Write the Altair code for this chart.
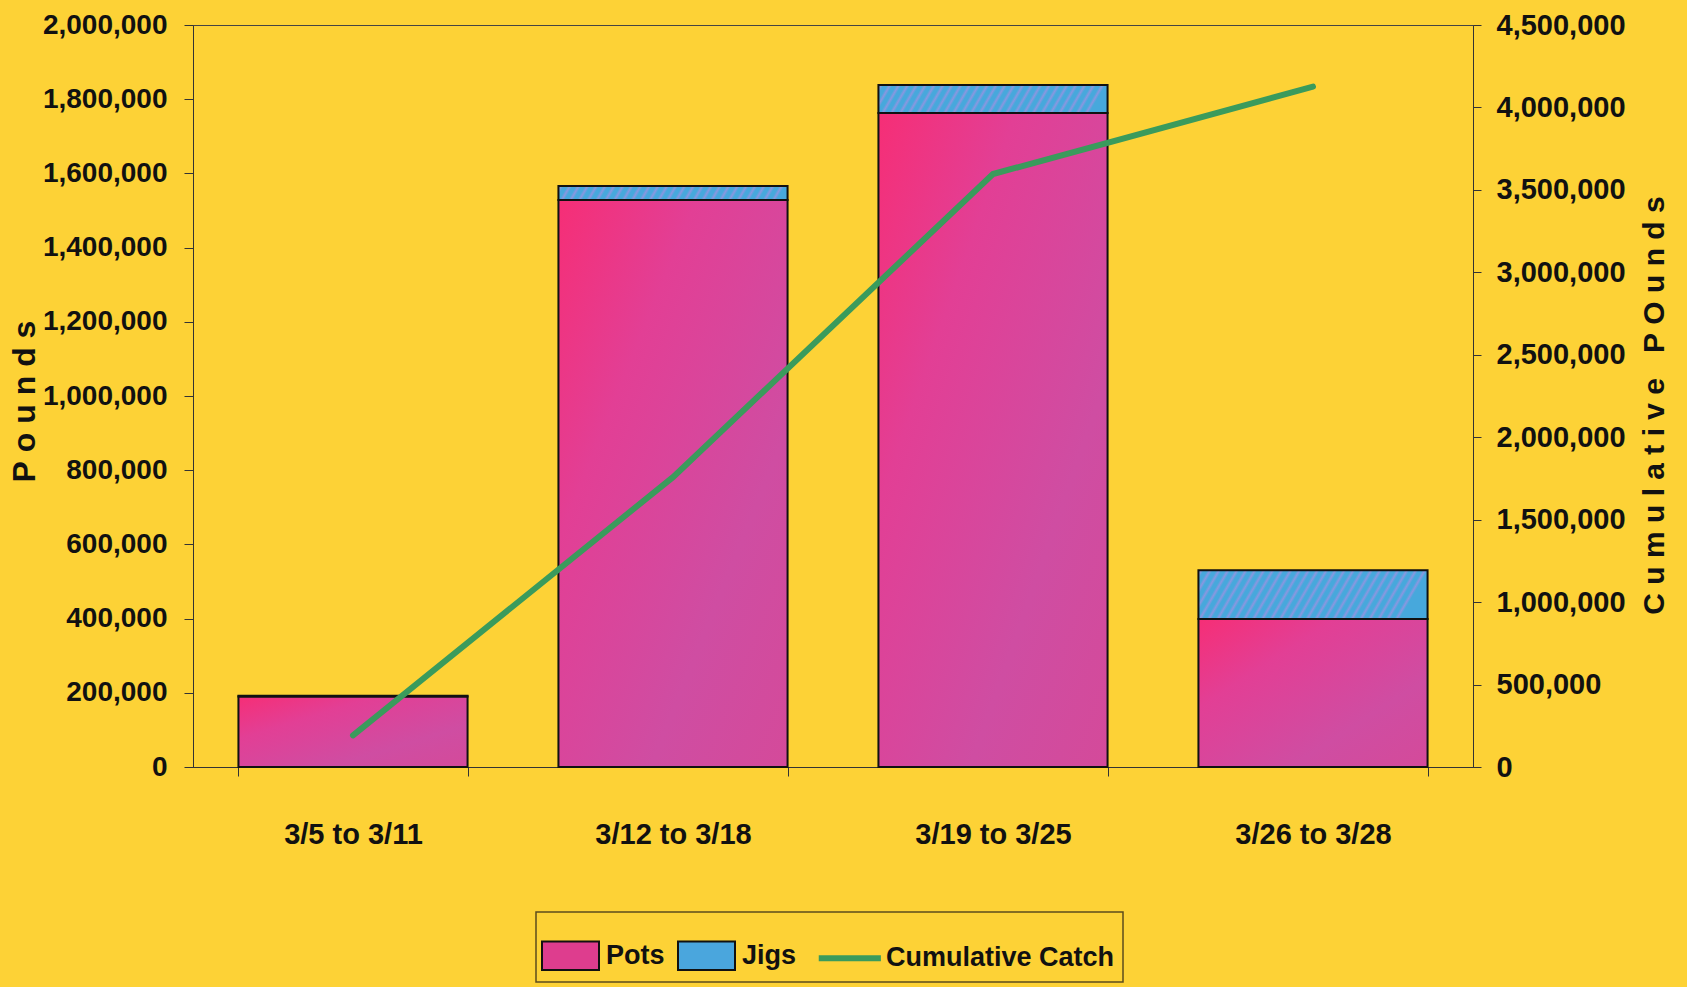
import altair as alt
import pandas as pd

# Weekly catch by gear type and the running total
weeks = ["3/5 to 3/11", "3/12 to 3/18", "3/19 to 3/25", "3/26 to 3/28"]
pots = [190000, 1528000, 1763000, 399000]
jigs = [2000, 38000, 75000, 131000]
cumulative = [192000, 1758000, 3596000, 4126000]

series = ["Pots", "Jigs", "Cumulative Catch"]
series_colors = ["#DE3D8E", "#4AA6DD", "#3A9B5C"]

left_ticks = [0, 200000, 400000, 600000, 800000, 1000000,
              1200000, 1400000, 1600000, 1800000, 2000000]
right_ticks = [0, 500000, 1000000, 1500000, 2000000,
               2500000, 3000000, 3500000, 4000000, 4500000]

FONT = "Liberation Sans"
BG = "#FDD236"
INK = "#111111"
LINE_GREEN = "#3A9B5C"
JIG_BLUE = "#47A8DC"
JIG_STRIPE = "#8A97E0"
NB = "\u00a0"  # non-collapsing space for the spaced-out axis titles

PLOT_W, PLOT_H = 1280, 742
LEFT_MAX, RIGHT_MAX = 2000000, 4500000
PAD_INNER, PAD_OUTER = 0.284, 0.142
BAR_W = PLOT_W / len(weeks) * (1 - PAD_INNER)

rows = []
for w, p, j in zip(weeks, pots, jigs):
    rows.append({"week": w, "series": "Pots", "low": 0, "high": p})
    rows.append({"week": w, "series": "Jigs", "low": p, "high": p + j})
bars_df = pd.DataFrame(rows)
pots_df = bars_df[bars_df["series"] == "Pots"]
jigs_df = bars_df[bars_df["series"] == "Jigs"]
line_df = pd.DataFrame({"week": weeks, "total": cumulative})

x_enc = alt.X(
    "week:N", sort=weeks, title=None,
    scale=alt.Scale(paddingInner=PAD_INNER, paddingOuter=PAD_OUTER),
    axis=alt.Axis(labelAngle=0, tickBand="extent", tickSize=9, labelPadding=44,
                  domainColor="#333", tickColor="#333", labelFont=FONT,
                  labelFontSize=29, labelFontWeight="bold", labelColor=INK,
                  labelLimit=400, grid=False),
)

left_axis = alt.Axis(
    orient="left", values=left_ticks, format=",.0f", grid=False,
    tickSize=9, labelPadding=17, domainColor="#333", tickColor="#333",
    labelFont=FONT, labelFontSize=28, labelFontWeight="bold", labelColor=INK,
    title=NB.join("Pounds"), titleFont=FONT, titleFontSize=32,
    titleFontWeight="bold", titleColor=INK,
    titleX=-169, titleY=376, titleAngle=270,
    titleAlign="center", titleBaseline="middle",
)
left_scale = alt.Scale(domain=[0, LEFT_MAX], nice=False)

right_axis = alt.Axis(
    orient="right", values=right_ticks, format=",.0f", grid=False,
    tickSize=8, labelPadding=15, domainColor="#333", tickColor="#333",
    labelFont=FONT, labelFontSize=29, labelFontWeight="bold", labelColor=INK,
    title=NB.join("Cumulative") + NB * 3 + NB.join("POunds"), titleFont=FONT,
    titleFontSize=30, titleFontWeight="bold", titleColor=INK,
    titleX=181, titleY=380, titleAngle=270,
    titleAlign="center", titleBaseline="middle",
)

is_line = "datum.value === 'Cumulative Catch'"
legend = alt.Legend(
    title=" ", titleFontSize=22, titlePadding=0,
    orient="none", legendX=343, legendY=887, direction="horizontal", columns=3,
    symbolType=alt.ExprRef(expr=f"{is_line} ? 'M-1.5,0H0.68' : 'M-1,-0.5H1V0.5H-1Z'"),
    symbolSize=3249, symbolOffset=13,
    symbolStrokeWidth=alt.ExprRef(expr=f"{is_line} ? 6 : 2"),
    symbolStrokeColor=alt.ExprRef(expr=f"{is_line} ? '{LINE_GREEN}' : '{INK}'"),
    symbolOpacity=1,
    labelFont=FONT, labelFontSize=27, labelFontWeight="bold", labelColor=INK,
    labelOffset=alt.ExprRef(expr=f"{is_line} ? 11 : 22"),
    labelLimit=600, columnPadding=9, padding=8,
    strokeColor="#5C4C1C", fillColor=BG,
)

y_bar = alt.Y("low:Q", scale=left_scale, axis=left_axis)

# Stacked gear bars (Pots at the base, Jigs on top); carries the legend
bars = alt.Chart(bars_df).mark_bar(opacity=1).encode(
    x=x_enc, y=y_bar, y2="high:Q",
    color=alt.Color("series:N",
                    scale=alt.Scale(domain=series, range=series_colors),
                    legend=legend),
)

# Shaded fill for the Pots segments
pots_fill = alt.Gradient(
    gradient="linear",
    stops=[
        alt.GradientStop(color="#F62E76", offset=0),
        alt.GradientStop(color="#E23F95", offset=0.3),
        alt.GradientStop(color="#CF4DA2", offset=0.7),
        alt.GradientStop(color="#D44A9A", offset=1),
    ],
    x1=0, y1=0, x2=1, y2=1,
)
pots_bars = alt.Chart(pots_df).mark_bar(fill=pots_fill).encode(
    x=x_enc, y=y_bar, y2="high:Q",
)


def hatch_fill(seg_height, period=8.7):
    """Diagonal stripe fill for a Jigs segment of the given pixel height."""
    n = max(1, round(BAR_W / period))
    tilt = 0.577 * max(seg_height, 1.0) / BAR_W
    stops = []
    for k in range(n):
        stops.append(alt.GradientStop(color=JIG_BLUE, offset=k / n))
        stops.append(alt.GradientStop(color=JIG_STRIPE, offset=(k + 0.3) / n))
        stops.append(alt.GradientStop(color=JIG_BLUE, offset=(k + 0.6) / n))
    stops.append(alt.GradientStop(color=JIG_BLUE, offset=1))
    return alt.Gradient(gradient="linear", stops=stops, x1=0, y1=0, x2=1, y2=tilt)


jig_layers = []
for w, j in zip(weeks, jigs):
    seg_h = j / LEFT_MAX * PLOT_H
    jig_layers.append(
        alt.Chart(jigs_df[jigs_df["week"] == w]).mark_bar(fill=hatch_fill(seg_h)).encode(
            x=x_enc, y=y_bar, y2="high:Q",
        )
    )

# Black outlines around every segment
outlines = alt.Chart(bars_df).mark_bar(fillOpacity=0, stroke=INK, strokeWidth=2).encode(
    x=x_enc, y=y_bar, y2="high:Q",
)

line = alt.Chart(line_df).mark_line(strokeWidth=6, strokeCap="round", color=LINE_GREEN).encode(
    x=x_enc,
    y=alt.Y("total:Q", scale=alt.Scale(domain=[0, RIGHT_MAX], nice=False), axis=right_axis),
)

chart = (
    alt.layer(alt.layer(bars, pots_bars, *jig_layers, outlines), line)
    .resolve_scale(y="independent")
    .properties(
        width=PLOT_W, height=PLOT_H,
        autosize=alt.AutoSizeParams(type="none"),
        padding={"left": 193, "top": 25, "right": 214, "bottom": 220},
        background=BG,
    )
    .configure_view(stroke="#444444", strokeWidth=1)
    .configure_legend(strokeWidth=1.5)
)

chart.save("out.html", embed_options={"renderer": "svg", "actions": False})
